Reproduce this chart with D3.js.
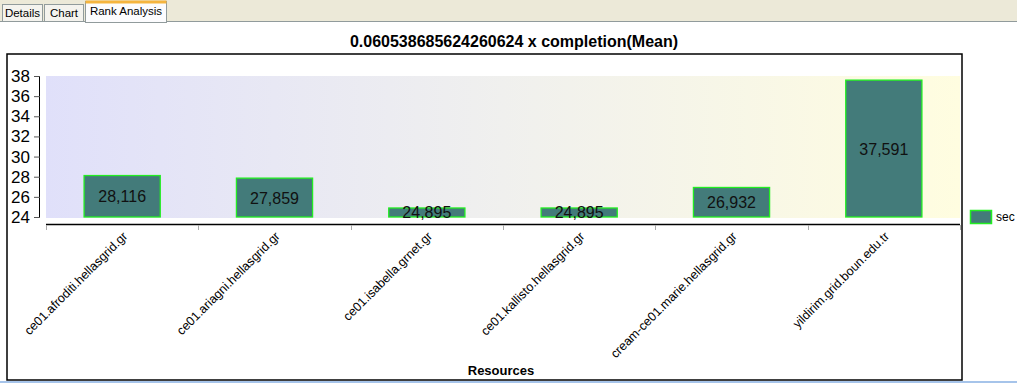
<!DOCTYPE html>
<html><head><meta charset="utf-8">
<script src="https://cdn.jsdelivr.net/npm/d3@7"></script>
<style>
html,body{margin:0;padding:0;background:#fff;}
svg{display:block;font-family:"Liberation Sans",Arial,sans-serif;}
</style></head>
<body><svg id="c" width="1017" height="383"></svg>
<script>
const categories = ["ce01.afroditi.hellasgrid.gr","ce01.ariagni.hellasgrid.gr","ce01.isabella.grnet.gr","ce01.kallisto.hellasgrid.gr","cream-ce01.marie.hellasgrid.gr","yildirim.grid.boun.edu.tr"];
const values = [28.116, 27.859, 24.895, 24.895, 26.932, 37.591];
const yTicks = [24, 26, 28, 30, 32, 34, 36, 38];
const tabs = ["Details", "Chart", "Rank Analysis"];
const seriesName = "sec";
const title = "0.060538685624260624 x completion(Mean)";
const xTitle = "Resources";

const svg = d3.select("#c");
const fmt = d3.formatLocale({decimal: ",", thousands: ".", grouping: [3], currency: ["", ""]}).format(".3f");

// tab strip
svg.append("rect").attr("x",0).attr("y",0).attr("width",1017).attr("height",22).attr("fill","#ece9d8");
svg.append("line").attr("x1",0).attr("x2",1017).attr("y1",21.5).attr("y2",21.5).attr("stroke","#919b9c");
const tabX = [2, 44, 85], tabW = [40, 39, 81];
tabs.forEach((t,i)=>{
  const active = i === 2;
  const g = svg.append("g");
  g.append("rect").attr("x",tabX[i]+0.5).attr("y",active?1.5:4.5).attr("width",tabW[i]).attr("height",active?21:17)
    .attr("fill", active?"#fcfcfe":"#f4f3ee").attr("stroke","#919b9c");
  if(active){
    g.append("rect").attr("x",tabX[i]+0.5).attr("y",0.5).attr("width",tabW[i]).attr("height",3).attr("fill","#f5b53f");
    g.append("line").attr("x1",tabX[i]+1).attr("x2",tabX[i]+tabW[i]).attr("y1",21.5).attr("y2",21.5).attr("stroke","#fcfcfe");
  }
  g.append("text").attr("x",tabX[i]+tabW[i]/2+0.5).attr("y",active?15:17).attr("text-anchor","middle")
    .attr("font-size","11.5px").attr("fill","#000").text(t);
});

// title
svg.append("text").attr("x",514).attr("y",47).attr("text-anchor","middle").attr("font-weight","bold")
  .attr("font-size","16px").attr("fill","#000").text(title);

// border box
svg.append("rect").attr("x",7).attr("y",54).attr("width",955).attr("height",326).attr("fill","none").attr("stroke","#000").attr("stroke-width",1.5);
// bottom blue line
svg.append("rect").attr("x",0).attr("y",381).attr("width",1017).attr("height",2).attr("fill","#a6c4ea");

const x = d3.scaleBand().domain(categories).range([46, 960]).paddingInner(0).paddingOuter(0);
const y = d3.scaleLinear().domain([24, 38]).range([217, 76]);

// gradient background
const defs = svg.append("defs");
const grad = defs.append("linearGradient").attr("id","bg").attr("x1","0").attr("x2","1").attr("y1","0").attr("y2","0");
grad.append("stop").attr("offset","0").attr("stop-color","#e0e0fa");
grad.append("stop").attr("offset","0.5").attr("stop-color","#f0f0ee");
grad.append("stop").attr("offset","1").attr("stop-color","#fffde0");
svg.append("rect").attr("x",46).attr("y",y(38)).attr("width",914).attr("height",y(24)-y(38)+1).attr("fill","url(#bg)");

// y axis
const yAxis = svg.append("g").attr("transform","translate(40,0)")
  .call(d3.axisLeft(y).tickValues(yTicks).tickSize(6).tickPadding(4).tickFormat(d3.format("d")));
yAxis.select(".domain").attr("stroke","#000").attr("d", `M-0.5,${y(38)}V${y(24)}`);
yAxis.selectAll(".tick line").attr("stroke","#555");
yAxis.selectAll(".tick text").attr("font-size","17px").attr("fill","#000").attr("font-family","'Liberation Sans',Arial,sans-serif");

// x axis
const xAxis = svg.append("g").attr("transform","translate(0,224)");
xAxis.append("line").attr("x1",46).attr("x2",960).attr("y1",0.5).attr("y2",0.5).attr("stroke","#000").attr("stroke-width",1.5);
const bounds = categories.map(c=>x(c)).concat([x(categories[categories.length-1])+x.bandwidth()]);
xAxis.selectAll("line.tk").data(bounds).join("line").attr("class","tk")
  .attr("x1",d=>Math.round(d)+0.5).attr("x2",d=>Math.round(d)+0.5).attr("y1",1).attr("y2",6).attr("stroke","#aaa");
xAxis.selectAll("text.cl").data(categories).join("text").attr("class","cl")
  .attr("transform",d=>`translate(${x(d)+x.bandwidth()/2+6},13) rotate(-45)`)
  .attr("text-anchor","end").attr("font-size","12.5px").attr("fill","#000").text(d=>d);

// bars
const bw = x.bandwidth()*0.5;
const bars = svg.append("g");
bars.selectAll("rect").data(values).join("rect")
  .attr("x",(d,i)=>x(categories[i])+x.bandwidth()/2-bw/2)
  .attr("y",d=>y(d)).attr("width",bw).attr("height",d=>y(24)-y(d))
  .attr("fill","#437b7a").attr("stroke","#22ee22").attr("stroke-width",1.3);
bars.selectAll("text").data(values).join("text")
  .attr("x",(d,i)=>x(categories[i])+x.bandwidth()/2)
  .attr("y",d=>(y(d)+y(24))/2+6).attr("text-anchor","middle").attr("font-size","16px").attr("fill","#111")
  .text(d=>fmt(d));

// x title
svg.append("text").attr("x",501).attr("y",375).attr("text-anchor","middle").attr("font-weight","bold")
  .attr("font-size","13px").attr("fill","#000").text(xTitle);

// legend
svg.append("rect").attr("x",970.5).attr("y",210.5).attr("width",21).attr("height",13).attr("fill","#437b7a").attr("stroke","#22ee22").attr("stroke-width",1.5);
svg.append("text").attr("x",996).attr("y",221).attr("font-size","12px").attr("fill","#000").text(seriesName);
</script></body></html>
